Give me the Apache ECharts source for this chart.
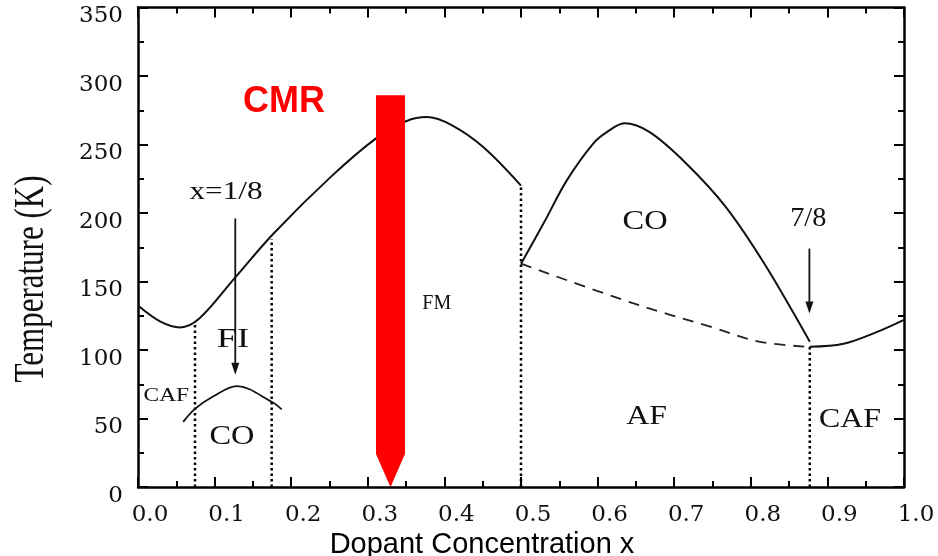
<!DOCTYPE html>
<html>
<head>
<meta charset="utf-8">
<script src="https://cdn.jsdelivr.net/npm/echarts@6/dist/echarts.min.js"></script>
<style>
  html, body { margin: 0; padding: 0; background: #fff; }
  #chart { width: 938px; height: 556px; }
</style>
</head>
<body>
<div id="chart"></div>
<script>
// Phase boundaries of the doped manganite (temperature in K vs dopant concentration x)

// Ferromagnetic (FM) transition line
const fmX = [0.0, 0.03, 0.055, 0.08, 0.124, 0.177, 0.251, 0.312, 0.35, 0.377, 0.41, 0.451, 0.5];
const fmT = [132.5, 120.5, 116.5, 123, 151, 185, 226, 255, 267, 270, 264, 248, 220];

// Charge-ordering dome for x > 0.5
const coDomeX = [0.5, 0.53, 0.56, 0.594, 0.612, 0.635, 0.668, 0.716, 0.768, 0.82, 0.877];
const coDomeT = [163, 193, 224, 250.5, 259, 265.5, 259, 236, 204, 161, 106];

// Antiferromagnetic (AF) boundary, dashed
const afX = [0.5, 0.647, 0.747, 0.812, 0.877];
const afT = [163, 134, 117, 106, 102.3];

// Canted AF boundary at high doping
const cafX = [0.877, 0.921, 0.964, 1.0];
const cafT = [102.3, 104.5, 113, 122];

// Small charge-ordered pocket around x = 1/8
const coSmallX = [0.059, 0.0744, 0.098, 0.129, 0.1745, 0.1876];
const coSmallT = [47.5, 57, 66, 73.6, 62.2, 56.6];

// Vertical (dotted) phase separations: concentration and upper temperature
const boundaryX = [0.0744, 0.1745, 0.5, 0.877];
const boundaryTop = [120, 181, 220, 102.3];

// Marker arrows at x = 1/8 and x = 7/8: concentration, start T, tip T
const markerX = [0.127, 0.8765];
const markerFrom = [196, 174];
const markerTo = [82, 126.6];

// Highlighted CMR composition: centre x, top T, shoulder T, tip T
const cmrArrow = [0.3296, 286, 24, 0];

// Phase labels
const labelText = ['x=1/8', 'FI', 'CAF', 'CO', 'FM', 'CO', '7/8', 'AF', 'CAF', 'CMR'];
const labelX = [0.115, 0.124, 0.037, 0.1227, 0.390, 0.662, 0.875, 0.664, 0.9295, 0.1906];
const labelT = [215.3, 107.2, 66.4, 36.6, 134, 193.5, 196, 51.3, 48.9, 281];

// Axis ticks
const xTicks = [0, 0.1, 0.2, 0.3, 0.4, 0.5, 0.6, 0.7, 0.8, 0.9, 1.0];
const yTicks = [0, 50, 100, 150, 200, 250, 300, 350];

const zip = (a, b) => a.map((v, i) => [v, b[i]]);

const SERIF = '"Liberation Serif", "Times New Roman", serif';
const INK = '#111';
const labelStyle = [
  { size: 25, sx: 1.25, family: SERIF, weight: 'normal', color: INK },
  { size: 28, sx: 1.3, family: SERIF, weight: 'normal', color: INK },
  { size: 18, sx: 1.3, family: SERIF, weight: 'normal', color: INK },
  { size: 27, sx: 1.2, family: SERIF, weight: 'normal', color: INK },
  { size: 20, sx: 1.0, family: SERIF, weight: 'normal', color: INK },
  { size: 27, sx: 1.2, family: SERIF, weight: 'normal', color: INK },
  { size: 27, sx: 1.05, family: SERIF, weight: 'normal', color: INK },
  { size: 27, sx: 1.18, family: SERIF, weight: 'normal', color: INK },
  { size: 27, sx: 1.18, family: SERIF, weight: 'normal', color: INK },
  { size: 36, sx: 1.0, family: '"Liberation Sans", Arial, sans-serif', weight: 'bold', color: '#ff0000' }
];

const chart = echarts.init(document.getElementById('chart'), null, { renderer: 'canvas' });

// Closed frame: all four axes drawn at the plot edges with inward ticks
const frameAxis = {
  axisLine: { show: true, onZero: false, lineStyle: { color: '#000', width: 2.5 } },
  axisTick: { show: true, inside: true, length: 10, lineStyle: { color: '#000', width: 2 } },
  minorTick: { show: true, splitNumber: 2, length: 6, lineStyle: { color: '#000', width: 2 } },
  splitLine: { show: false },
  minorSplitLine: { show: false }
};

const tickFont = { fontFamily: '"DejaVu Serif", serif', fontSize: 23, color: INK };

const curveStyle = { color: '#111', width: 2 };
const SMOOTH = 0.35;

const option = {
  animation: false,
  backgroundColor: '#fff',
  grid: { left: 138, right: 34, top: 7.5, bottom: 69, containLabel: false },
  xAxis: [
    Object.assign({
      type: 'value', min: xTicks[0], max: xTicks[xTicks.length - 1], interval: 0.1, position: 'bottom',
      axisLabel: Object.assign({ margin: 17, padding: [0, 0, 0, 24], formatter: v => v.toFixed(1) }, tickFont)
    }, frameAxis),
    Object.assign({
      type: 'value', min: 0, max: 1, interval: 0.1, position: 'top',
      axisLabel: { show: false }
    }, frameAxis)
  ],
  yAxis: [
    Object.assign({
      type: 'value', min: yTicks[0], max: yTicks[yTicks.length - 1], interval: 50, position: 'left',
      axisLabel: Object.assign({ margin: 15, verticalAlign: 'top', lineHeight: 18 }, tickFont)
    }, frameAxis),
    Object.assign({
      type: 'value', min: 0, max: 350, interval: 50, position: 'right',
      axisLabel: { show: false }
    }, frameAxis)
  ],
  graphic: [
    {
      type: 'text', x: 32, y: 279, rotation: Math.PI / 2, scaleY: 1.33,
      style: { text: 'Temperature (K)', font: '31px ' + SERIF, fill: INK, align: 'center', verticalAlign: 'middle' }
    },
    {
      type: 'text', x: 482, y: 545,
      style: { text: 'Dopant Concentration x', font: '29px "Liberation Sans", Arial, sans-serif', fill: '#000', align: 'center', verticalAlign: 'middle' }
    }
  ],
  series: [
    { name: 'FM', type: 'line', data: zip(fmX, fmT), smooth: SMOOTH, showSymbol: false, lineStyle: curveStyle, z: 2 },
    { name: 'CO dome', type: 'line', data: zip(coDomeX, coDomeT), smooth: SMOOTH, showSymbol: false, lineStyle: curveStyle, z: 2 },
    { name: 'AF', type: 'line', data: zip(afX, afT), smooth: SMOOTH, showSymbol: false,
      lineStyle: { color: '#222', width: 1.8, type: [11, 8] }, z: 2 },
    { name: 'CAF', type: 'line', data: zip(cafX, cafT), smooth: SMOOTH, showSymbol: false, lineStyle: curveStyle, z: 2 },
    { name: 'CO pocket', type: 'line', data: zip(coSmallX, coSmallT), smooth: SMOOTH, showSymbol: false,
      lineStyle: { color: '#111', width: 1.8 }, z: 2 },
    {
      name: 'boundaries', type: 'custom', z: 2,
      data: zip(boundaryX, boundaryTop),
      renderItem: (params, api) => {
        const a = api.coord([api.value(0), 0]);
        const b = api.coord([api.value(0), api.value(1)]);
        return {
          type: 'line',
          shape: { x1: a[0], y1: a[1], x2: b[0], y2: b[1] },
          style: { stroke: '#000', lineWidth: 2.5, lineDash: [2.5, 3] }
        };
      }
    },
    {
      name: 'markers', type: 'custom', z: 3,
      data: markerX.map((x, i) => [x, markerFrom[i], markerTo[i]]),
      renderItem: (params, api) => {
        const s = api.coord([api.value(0), api.value(1)]);
        const t = api.coord([api.value(0), api.value(2)]);
        const head = 12, hw = 4;
        return {
          type: 'group',
          children: [
            { type: 'line', shape: { x1: s[0], y1: s[1], x2: t[0], y2: t[1] - head + 2 },
              style: { stroke: '#111', lineWidth: 1.8 } },
            { type: 'polygon', shape: { points: [[t[0], t[1]], [t[0] - hw, t[1] - head], [t[0] + hw, t[1] - head]] },
              style: { fill: '#111' } }
          ]
        };
      }
    },
    {
      name: 'CMR', type: 'custom', z: 5,
      data: [cmrArrow],
      renderItem: (params, api) => {
        const top = api.coord([api.value(0), api.value(1)]);
        const sh = api.coord([api.value(0), api.value(2)]);
        const tip = api.coord([api.value(0), api.value(3)]);
        const hw = 14.5;
        return {
          type: 'polygon',
          shape: { points: [[top[0] - hw, top[1]], [top[0] + hw, top[1]], [sh[0] + hw, sh[1]], [tip[0], tip[1]], [sh[0] - hw, sh[1]]] },
          style: { fill: '#ff0000' }
        };
      }
    },
    {
      name: 'labels', type: 'custom', z: 6,
      data: zip(labelX, labelT),
      renderItem: (params, api) => {
        const p = api.coord([api.value(0), api.value(1)]);
        const st = labelStyle[params.dataIndex];
        return {
          type: 'text', x: p[0], y: p[1], scaleX: st.sx,
          style: {
            text: labelText[params.dataIndex],
            font: st.weight + ' ' + st.size + 'px ' + st.family,
            fill: st.color, align: 'center', verticalAlign: 'middle'
          }
        };
      }
    }
  ]
};

chart.setOption(option);
</script>
</body>
</html>
